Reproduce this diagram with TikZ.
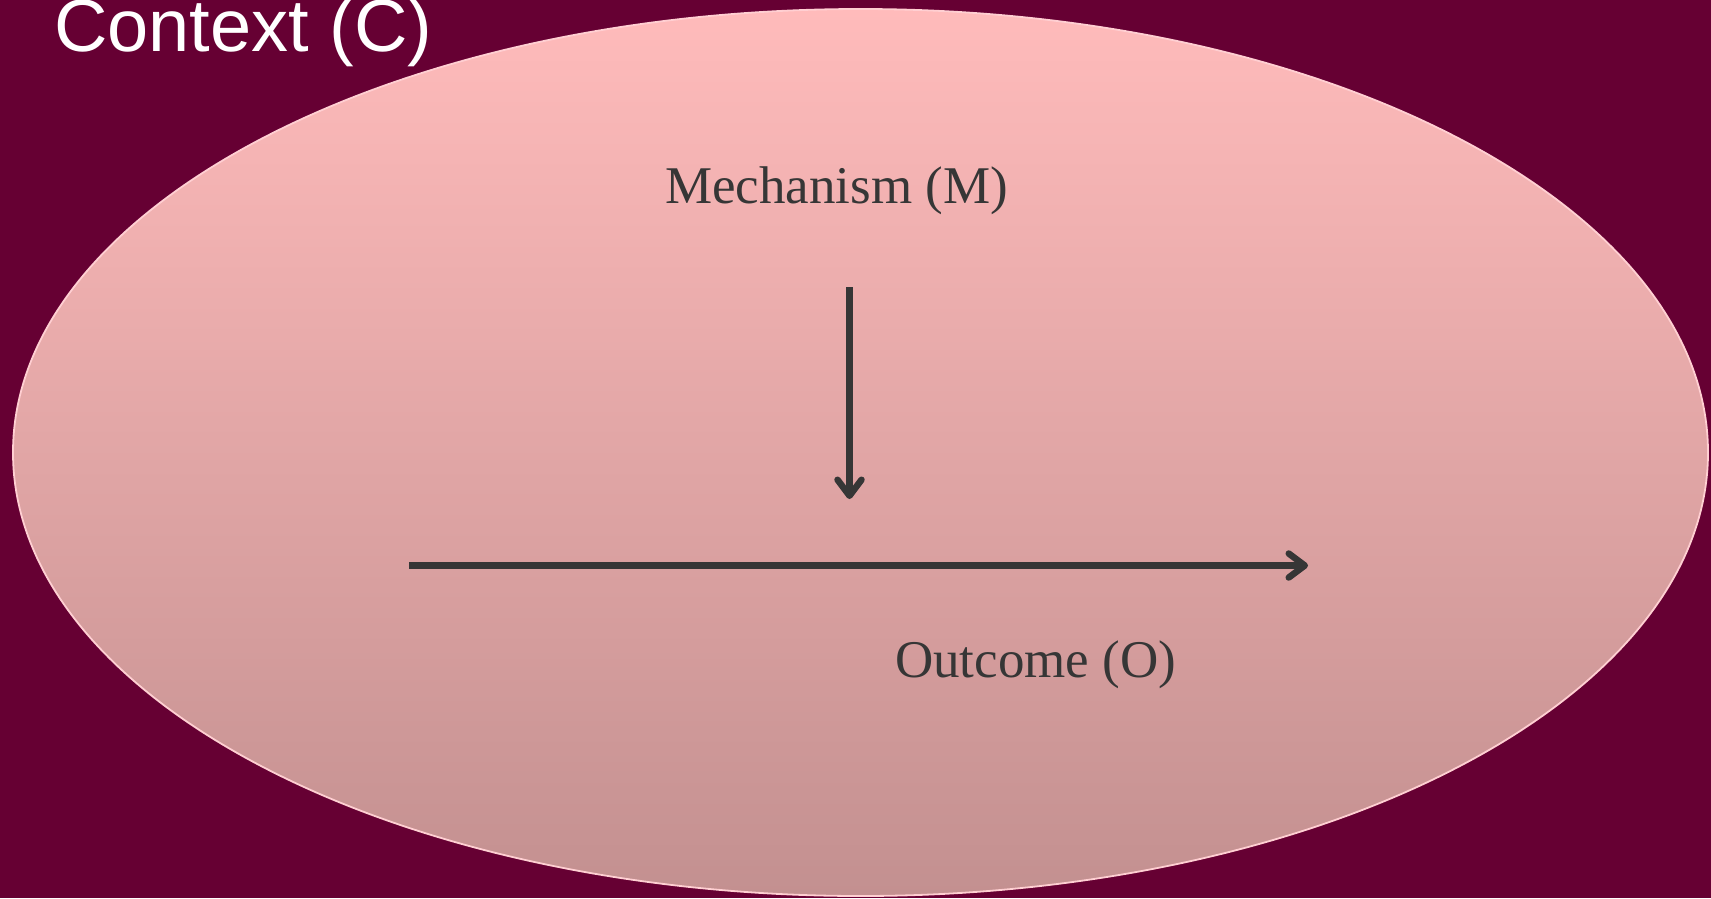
\documentclass[tikz,border=0pt]{standalone}
\usepackage{fontspec}
\setmainfont{Liberation Serif}
\newfontfamily\arialfont{Liberation Sans}
\usetikzlibrary{shapes.geometric,arrows.meta}
\definecolor{bgwine}{HTML}{660033}
\definecolor{elltop}{HTML}{FFBBBB}
\definecolor{ellbot}{HTML}{C39090}
\definecolor{ellrim}{HTML}{FFCFD2}
\definecolor{darktxt}{HTML}{363636}
\tikzset{
  lbl/.style={inner sep=0pt, anchor=base west, text=darktxt, font=\fontsize{53}{60}\selectfont},
  arr/.style={draw=darktxt, line width=6.5pt, -{Straight Barb[length=16pt, width=24pt, round]}}
}
\begin{document}
\begin{tikzpicture}[x=1pt,y=-1pt]
\fill[bgwine] (0,0) rectangle (1711,898);
\useasboundingbox (0,0) rectangle (1711,898);
\node[ellipse, minimum width=1695pt, minimum height=887pt, inner sep=0pt, draw=ellrim, line width=1.8pt, top color=elltop, bottom color=ellbot] (ctx) at (860.5,452.5) {};
\node[inner sep=0pt, anchor=base west, text=white, font=\arialfont\fontsize{74}{80}\selectfont] (ctxlabel) at (54,51) {Context (C)};
\node[lbl] (mech) at (665,203) {Mechanism (M)};
\node[lbl] (outc) at (895,677) {Outcome (O)};
\coordinate (mstart) at (849.5,287);
\coordinate (mend) at (849.5,499);
\coordinate (ostart) at (409,565.5);
\coordinate (oend) at (1308,565.5);
\draw[arr] (mstart) -- (mend);
\draw[arr] (ostart) -- (oend);
\end{tikzpicture}
\end{document}
